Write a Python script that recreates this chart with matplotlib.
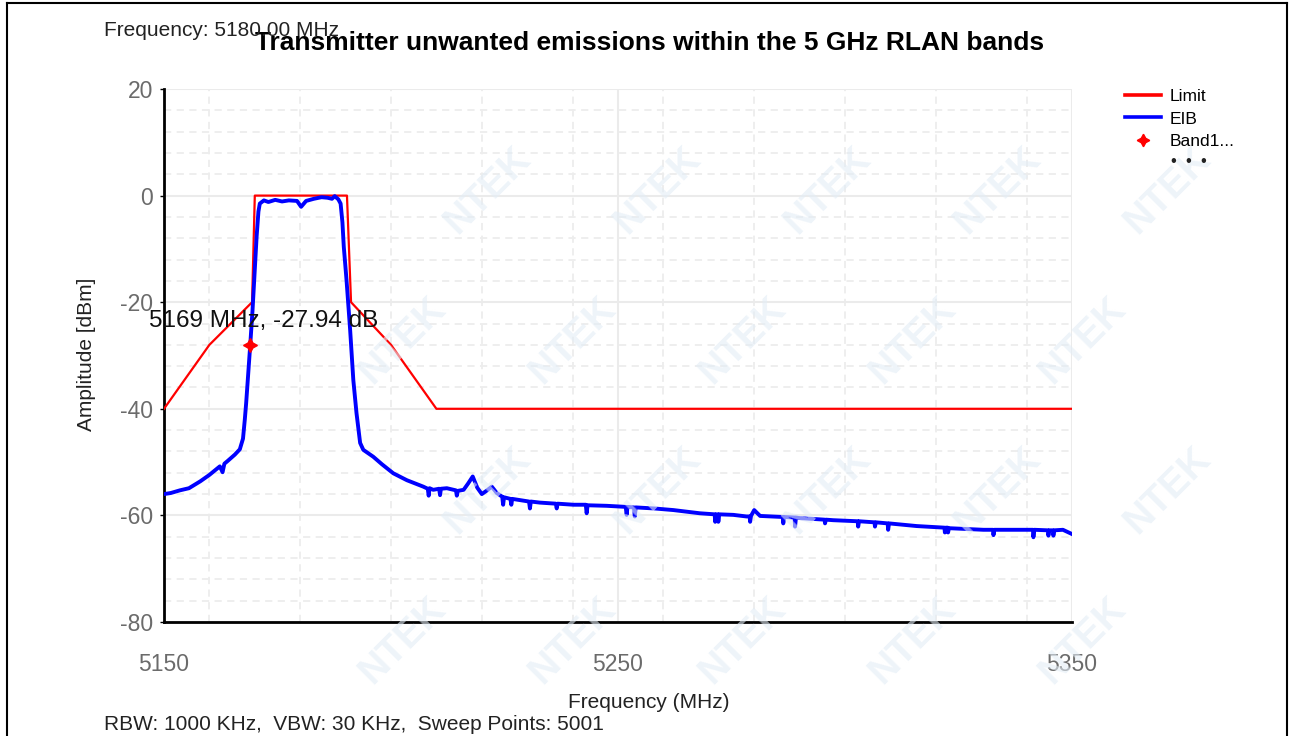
import matplotlib
matplotlib.use("Agg")
import matplotlib.pyplot as plt
from matplotlib.lines import Line2D
from matplotlib.ticker import MultipleLocator

plt.rcParams['font.family'] = ['Liberation Sans', 'DejaVu Sans']
plt.rcParams['axes.unicode_minus'] = False

# emission mask (MHz, dBm)
limit_freq = [5150, 5160, 5169.4, 5170.0, 5190.3, 5191.2, 5200, 5210, 5350]
limit_level = [-40, -28, -20, 0, 0, -20, -28, -40, -40]

# measured spectrum, EIB trace (MHz, dBm)
eib_freq = [
    5150.0, 5151.5, 5153.5, 5155.5, 5158.0, 5160.0, 5162.3, 5162.9, 5163.3, 5164.0,
    5165.6, 5166.7, 5167.4, 5167.8, 5168.1, 5169.0, 5169.5, 5170.0, 5170.4, 5170.8,
    5171.1, 5172.0, 5173.0, 5174.5, 5176.0, 5177.5, 5179.3, 5180.2, 5181.3, 5183.0,
    5184.7, 5186.0, 5187.0, 5187.6, 5188.4, 5188.9, 5189.3, 5189.6, 5190.2, 5191.0,
    5191.7, 5192.4, 5193.2, 5193.9, 5196.1, 5198.0, 5200.5, 5203.5, 5207.1, 5208.1,
    5208.3, 5208.5, 5209.3, 5210.6, 5210.8, 5211.0, 5212.3, 5214.3, 5214.5, 5214.7,
    5216.0, 5217.0, 5218.0, 5219.0, 5220.0, 5221.0, 5222.2, 5223.3, 5224.5, 5224.7,
    5224.9, 5226.3, 5226.5, 5226.7, 5229.0, 5230.4, 5230.6, 5230.8, 5232.8, 5236.3,
    5236.5, 5236.7, 5240.2, 5242.9, 5243.1, 5243.3, 5247.5, 5251.7, 5251.9, 5252.1,
    5253.5, 5253.7, 5253.9, 5258.0, 5262.2, 5266.0, 5268.0, 5271.3, 5271.4, 5271.6,
    5272.0, 5272.1, 5272.3, 5275.4, 5278.3, 5279.0, 5279.1, 5279.3, 5280.0, 5281.3,
    5286.3, 5286.4, 5286.6, 5288.9, 5289.0, 5289.2, 5290.0, 5295.5, 5295.6, 5295.8,
    5297.4, 5302.8, 5302.9, 5303.1, 5304.8, 5306.5, 5306.6, 5306.8, 5309.4, 5309.5,
    5309.7, 5315.8, 5320.0, 5321.9, 5322.0, 5322.2, 5322.6, 5322.7, 5322.9, 5330.5,
    5332.6, 5332.7, 5332.9, 5337.8, 5341.4, 5341.5, 5341.7, 5344.7, 5344.8, 5345.0,
    5345.8, 5345.9, 5346.1, 5348.0, 5350.0,
]
eib_level = [
    -56.0, -55.8, -55.3, -54.9, -53.6, -52.4, -50.8, -51.9, -50.3, -49.8,
    -48.6, -47.6, -45.6, -42.0, -38.9, -27.94, -21.5, -14.0, -7.7, -3.0,
    -1.5, -0.9, -1.2, -0.8, -1.1, -0.9, -1.0, -2.1, -1.0, -0.6,
    -0.3, -0.4, -0.6, -0.1, -0.7, -1.5, -5.0, -9.6, -15.8, -25.2,
    -34.6, -40.8, -46.4, -47.7, -49.0, -50.4, -52.1, -53.4, -54.6, -55.0,
    -56.3, -54.9, -55.2, -55.0, -56.2, -55.0, -54.9, -55.3, -56.3, -55.4,
    -55.2, -54.0, -52.7, -54.8, -56.0, -55.4, -54.6, -55.8, -56.5, -58.0,
    -56.6, -56.9, -58.0, -56.9, -57.2, -57.4, -58.7, -57.4, -57.6, -57.8,
    -58.7, -57.8, -58.0, -58.0, -59.6, -58.1, -58.2, -58.4, -59.9, -58.4,
    -58.5, -60.2, -58.5, -58.7, -59.0, -59.4, -59.6, -59.8, -61.2, -59.8,
    -59.8, -61.2, -59.8, -59.9, -60.2, -60.2, -61.2, -60.1, -59.0, -60.1,
    -60.3, -61.5, -60.3, -60.4, -62.1, -60.4, -60.5, -60.8, -61.5, -60.8,
    -60.9, -61.1, -62.1, -61.1, -61.2, -61.3, -62.1, -61.3, -61.5, -62.7,
    -61.5, -62.0, -62.2, -62.3, -63.2, -62.3, -62.3, -63.2, -62.4, -62.7,
    -62.7, -63.7, -62.7, -62.7, -62.7, -64.1, -62.7, -62.8, -63.8, -62.8,
    -62.8, -63.8, -62.8, -62.7, -63.5,
]

marker_freq = 5169
marker_level = -27.94

x_ticks = [5150, 5250, 5350]
y_ticks = [-80, -60, -40, -20, 0, 20]

W, H = 1289, 736
fig = plt.figure(figsize=(W / 100, H / 100), dpi=100)
fig.patch.set_facecolor("white")

# faint company watermark tiled over the page
for r in range(-1, 6):
    for c in range(-1, 9):
        px = 573 + c * 170 + (85 if r % 2 else 0)
        py = 190 + (r - 1) * 150
        if 55 < px < W - 55 and 50 < py < H - 50:
            fig.text(px / W, 1 - py / H, "NTEK", rotation=45, fontsize=28,
                     fontweight="bold", color="#e3edf6", alpha=0.6,
                     ha="center", va="center", zorder=0)

ax = fig.add_axes([164 / W, 1 - 622 / H, 908 / W, 533 / H])
ax.set_facecolor("none")
ax.set_xlim(5150, 5350)
ax.set_ylim(-80, 20)

ax.set_xticks(x_ticks)
ax.set_yticks(y_ticks)
ax.xaxis.set_minor_locator(MultipleLocator(20))
ax.yaxis.set_minor_locator(MultipleLocator(4))
ax.grid(which="major", color="#ebebeb", linewidth=1.5, linestyle="-")
ax.grid(which="minor", color="#ededed", linewidth=1.3, linestyle=(0, (4, 3)))
ax.set_axisbelow(True)

for side in ["top", "right"]:
    ax.spines[side].set_visible(False)
for side in ["left", "bottom"]:
    ax.spines[side].set_linewidth(2)
    ax.spines[side].set_color("black")

ax.tick_params(which="minor", length=0)
ax.tick_params(axis="y", which="major", length=3, width=1, pad=5,
               labelsize=16.5, labelcolor="#6b6b6b")
ax.tick_params(axis="x", which="major", length=0, pad=22,
               labelsize=16.5, labelcolor="#6b6b6b")

ax.plot(limit_freq, limit_level, color="#ff0000", linewidth=1.6, label="Limit",
        zorder=3)
ax.plot(eib_freq, eib_level, color="#0000ff", linewidth=2.8, label="EIB",
        zorder=4)
ax.plot([marker_freq], [marker_level], linestyle="none", marker=(4, 1, 0),
        markersize=10, color="#ff0000", label="Band1...", zorder=5)

ax.text(5172.0, -23.6, f"{marker_freq} MHz, {marker_level:.2f} dB",
        fontsize=17.5, color="#111111", ha="center", va="center", zorder=6)

# legend on the right
handles = [
    Line2D([], [], color="#ff0000", linewidth=2.6),
    Line2D([], [], color="#0000ff", linewidth=2.6),
    Line2D([], [], color="#ff0000", linestyle="none", marker=(4, 1, 0),
           markersize=9),
]
fig.legend(handles, ["Limit", "EIB", "Band1..."], loc="upper left",
           bbox_to_anchor=(1118 / W, 1 - 82 / H), frameon=False,
           fontsize=12.5, handlelength=2.1, handletextpad=0.45,
           labelspacing=0.42, borderaxespad=0)
fig.text(1189 / W, 1 - 161 / H, "\u2022  \u2022  \u2022", fontsize=12,
         ha="center", va="center", color="#222222")

fig.text(650 / W, 1 - 43 / H,
         "Transmitter unwanted emissions within the 5 GHz RLAN bands",
         fontsize=19, fontweight="bold", ha="center", va="center",
         color="black")
fig.text(104 / W, 1 - 31 / H, "Frequency: 5180.00 MHz", fontsize=15,
         ha="left", va="center", color="#222222")
fig.text(87 / W, 1 - 354 / H, "Amplitude [dBm]", fontsize=15, rotation=90,
         ha="center", va="center", color="#222222")
fig.text(649 / W, 1 - 703 / H, "Frequency (MHz)", fontsize=15,
         ha="center", va="center", color="#222222")
fig.text(104 / W, 1 - 724 / H,
         "RBW: 1000 KHz,  VBW: 30 KHz,  Sweep Points: 5001", fontsize=15,
         ha="left", va="center", color="#222222")

# page frame
frame = dict(color="black", linewidth=1.5, transform=fig.transFigure)
fig.add_artist(Line2D([7 / W, 1287 / W], [1 - 3 / H, 1 - 3 / H], **frame))
fig.add_artist(Line2D([7 / W, 7 / W], [0, 1 - 3 / H], **frame))
fig.add_artist(Line2D([1287 / W, 1287 / W], [0, 1 - 3 / H], **frame))

fig.savefig("out.png", dpi=100, facecolor="white")
